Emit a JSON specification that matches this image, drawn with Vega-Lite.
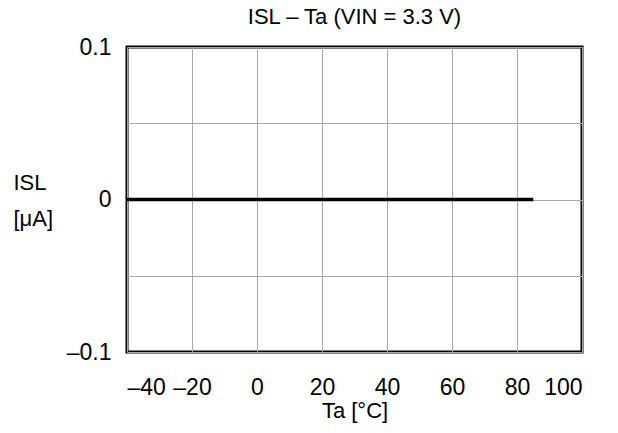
{
  "$schema": "https://vega.github.io/schema/vega-lite/v6.json",
  "autosize": {"type": "none"},
  "width": 455,
  "height": 305,
  "padding": {"left": 127, "top": 47, "right": 36, "bottom": 81},
  "background": "white",
  "title": {
    "text": "ISL – Ta (VIN = 3.3 V)",
    "font": "Liberation Sans",
    "fontSize": 22,
    "fontWeight": "normal",
    "color": "black",
    "anchor": "middle",
    "offset": 7
  },
  "config": {
    "view": {"stroke": "black", "strokeWidth": 3},
    "axis": {
      "labelFont": "Liberation Sans",
      "titleFont": "Liberation Sans",
      "labelColor": "black",
      "titleColor": "black",
      "labelFontSize": 23,
      "titleFontSize": 22,
      "titleFontWeight": "normal",
      "gridColor": "#aaaaaa",
      "gridWidth": 1,
      "gridOpacity": 1,
      "domain": false,
      "ticks": false
    }
  },
  "data": {
    "values": [
      {"Ta": -40, "ISL": 0},
      {"Ta": -20, "ISL": 0},
      {"Ta": 0, "ISL": 0},
      {"Ta": 20, "ISL": 0},
      {"Ta": 40, "ISL": 0},
      {"Ta": 60, "ISL": 0},
      {"Ta": 80, "ISL": 0},
      {"Ta": 85, "ISL": 0}
    ]
  },
  "mark": {"type": "line", "color": "black", "strokeWidth": 3.5},
  "encoding": {
    "x": {
      "field": "Ta",
      "type": "quantitative",
      "scale": {"domain": [-40, 100], "nice": false},
      "axis": {
        "values": [-40, -20, 0, 20, 40, 60, 80, 100],
        "labelExpr": "(datum.value < 0 ? '–' : '') + abs(datum.value)",
        "labelPadding": 24,
        "title": "Ta [°C]",
        "titlePadding": 1
      }
    },
    "y": {
      "field": "ISL",
      "type": "quantitative",
      "scale": {"domain": [-0.1, 0.1], "nice": false},
      "axis": {
        "values": [-0.1, -0.05, 0, 0.05, 0.1],
        "labelExpr": "abs(datum.value) < 0.01 ? '0' : abs(datum.value) < 0.07 ? '' : (datum.value < 0 ? '–' : '') + '0.1'",
        "labelPadding": 16,
        "title": ["ISL", "[μA]"],
        "titleAngle": 0,
        "titleAlign": "left",
        "titleBaseline": "middle",
        "titleLineHeight": 36,
        "titleX": -114,
        "titleY": 135
      }
    }
  }
}
